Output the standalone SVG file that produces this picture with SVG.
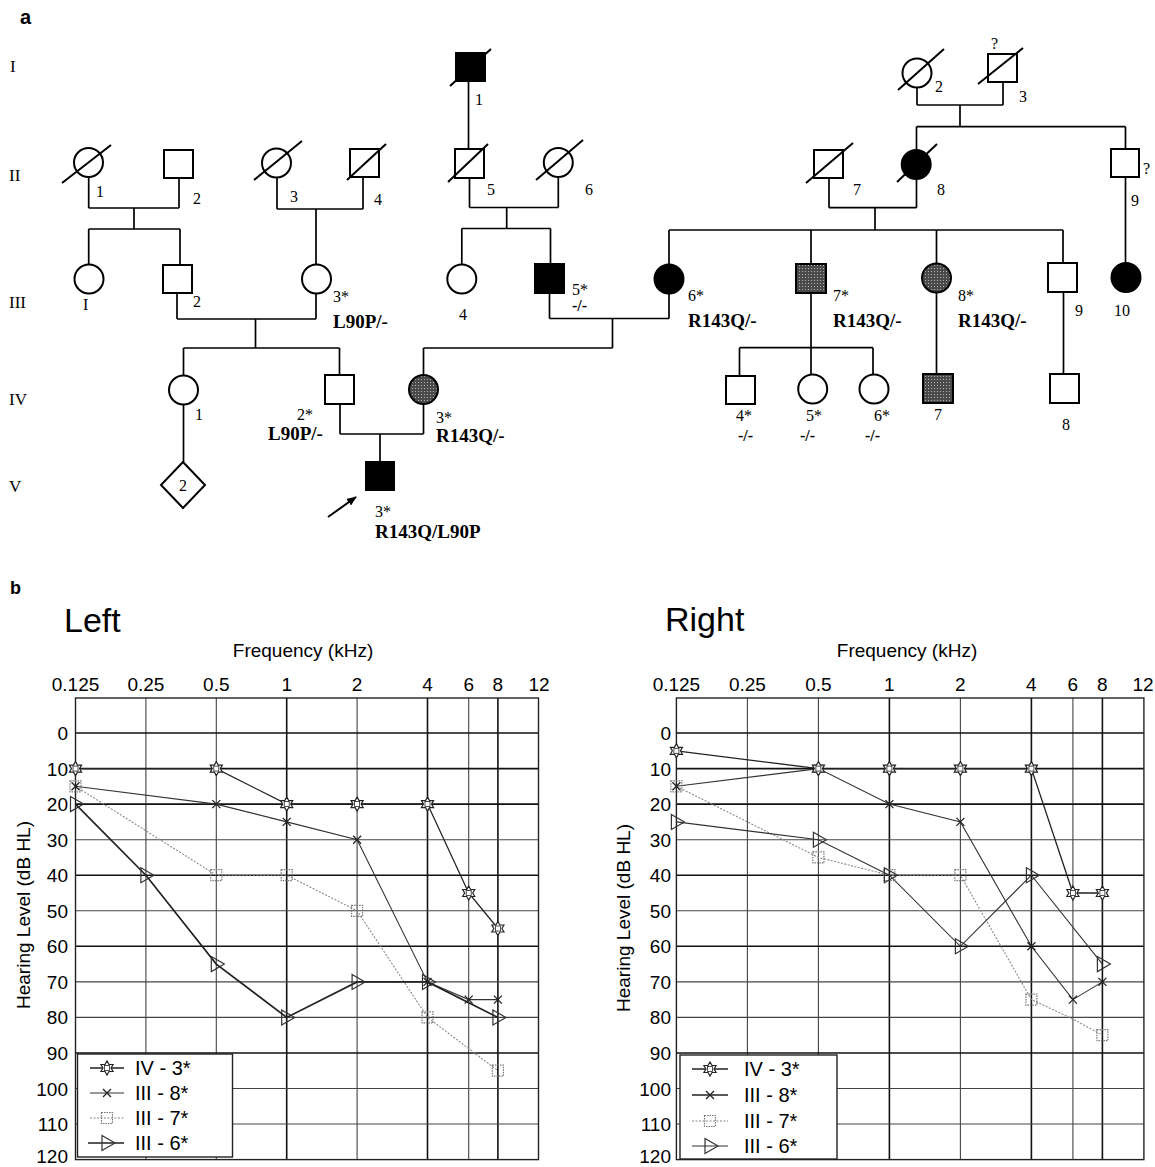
<svg xmlns="http://www.w3.org/2000/svg" xmlns:xlink="http://www.w3.org/1999/xlink" width="1155" height="1167" viewBox="0 0 1155 1167">
<style>
.sym{stroke:#000;stroke-width:2;fill:#fff}
.aff{fill:#000}
.car{fill:url(#dither)}
.sl{stroke:#000;stroke-width:2}
.con{stroke:#000;stroke-width:1.7;fill:none}
.lb{font-family:"Liberation Serif",serif;font-size:16px;fill:#000}
.gb{font-family:"Liberation Serif",serif;font-size:19px;font-weight:bold;fill:#000}
.gen{font-family:"Liberation Serif",serif;font-size:17px;fill:#000}
.pl{font-family:"Liberation Sans",Arial,sans-serif;font-weight:bold;fill:#000}
.ax{font-family:"Liberation Sans",Arial,sans-serif;font-size:19px;fill:#000}
.ttl{font-family:"Liberation Sans",Arial,sans-serif;font-size:34px;fill:#000}
.yl{font-family:"Liberation Sans",Arial,sans-serif;font-size:19px;fill:#000;text-anchor:end}
.leg{font-family:"Liberation Sans",Arial,sans-serif;font-size:20px;fill:#000}
.gd{stroke:#444;stroke-width:1.1}
.gdk{stroke:#111;stroke-width:1.6}
.bd{stroke:#222;stroke-width:1.4;fill:none}
.s4{stroke:#222;stroke-width:1.3;fill:none}
.s8{stroke:#333;stroke-width:1.1;fill:none}
.s7{stroke:#888;stroke-width:1.1;stroke-dasharray:2 1.5;fill:none}
.s6{stroke:#222;stroke-width:1.7;fill:none}
.mst{stroke:#222;stroke-width:1.2;fill:#fff}
.mx{stroke:#222;stroke-width:1.3;fill:none}
.msq{stroke:#777;stroke-width:1.2;stroke-dasharray:1.5 1;fill:none}
.mtr{stroke:#333;stroke-width:1.2;fill:none}
</style>
<defs>
<pattern id="dither" width="3" height="3" patternUnits="userSpaceOnUse">
<rect width="3" height="3" fill="#4a4a4a"/>
<rect x="1" y="1" width="1" height="1" fill="#b0b0b0"/>
</pattern>
<marker id="ah" markerWidth="10" markerHeight="8" refX="9" refY="4" orient="auto" markerUnits="userSpaceOnUse">
<path d="M0,0 L10,4 L0,8 Z" fill="#000"/>
</marker>
<symbol id="star" overflow="visible"><polygon class="mst" points="0,-7 2.02,-3.5 6.06,-3.5 4.04,0 6.06,3.5 2.02,3.5 0,7 -2.02,3.5 -6.06,3.5 -4.04,0 -6.06,-3.5 -2.02,-3.5"/><rect x="-2.5" y="-2.5" width="5" height="5" fill="none" stroke="#222" stroke-width="0.8"/></symbol>
<symbol id="xm" overflow="visible"><path class="mx" d="M-4,-4 L4,4 M-4,4 L4,-4"/></symbol>
<symbol id="sq" overflow="visible"><rect class="msq" x="-5.5" y="-5.5" width="11" height="11"/></symbol>
<symbol id="tri" overflow="visible"><polygon class="mtr" points="-5,-7.5 8,0 -5,7.5"/></symbol>
</defs>
<rect width="1155" height="1167" fill="#fff"/>

<!-- panel a -->
<text class="pl" x="20" y="24" font-size="20">a</text>
<g id="gen-labels">
<text class="gen" x="10" y="72">I</text>
<text class="gen" x="9" y="181">II</text>
<text class="gen" x="9" y="308">III</text>
<text class="gen" x="9" y="405">IV</text>
<text class="gen" x="9" y="492">V</text>
</g>

<g id="connectors">
<path class="con" d="M88.7,177 V208 M179,178 V208 M88.7,208 H179 M134,208 V229 M88.7,229 H180 M88.7,229 V264.5 M180,229 V265"/>
<path class="con" d="M277,177.5 V209 M363,177 V209 M277,209 H363 M316,209 V264.5"/>
<path class="con" d="M177,293 V319 M316,293.5 V319 M177,319 H316 M255.5,319 V348 M183.5,348 H339.5 M183.5,348 V375.5 M339.5,348 V375"/>
<path class="con" d="M468.5,81 V149"/>
<path class="con" d="M469.5,178 V207.5 M558.3,177 V207.5 M469.5,207.5 H558.3 M506.7,207.5 V228.5 M461.8,228.5 H550.5 M461.8,228.5 V264.5 M550.5,228.5 V264"/>
<path class="con" d="M549.5,293 V318.5 M669,293.5 V318.5 M549.5,318.5 H669 M612.5,318.5 V348 M423.5,348 H612.5 M423.5,348 V375"/>
<path class="con" d="M917,87.5 V105 M1003,82 V105 M917,105 H1003 M960,105 V126.7 M916.5,126.7 H1125.5 M916.5,126.7 V150 M1125.5,126.7 V149"/>
<path class="con" d="M829,178 V207.7 M916.5,179 V207.7 M829,207.7 H916.5 M875,207.7 V230 M669,230 H1063 M669,230 V264.5 M811,230 V264 M936.5,230 V263.5 M1063,230 V263"/>
<path class="con" d="M1125.5,177 V263"/>
<path class="con" d="M811,293 V375 M739.5,347.7 H873 M739.5,347.7 V376 M873,347.7 V374.5"/>
<path class="con" d="M936.5,292.5 V374 M1063.5,292 V374"/>
<path class="con" d="M183.5,404.5 V462"/>
<path class="con" d="M340,404 V434 M423.5,404 V434 M340,434 H423.5 M380,434 V462"/>
<line x1="328" y1="517" x2="356" y2="497" stroke="#000" stroke-width="2" marker-end="url(#ah)"/>
</g>

<g id="I-1"><rect class="sym aff" x="456" y="53" width="29" height="28"/><line class="sl" x1="450" y1="86" x2="491" y2="49"/><text class="lb" x="475" y="105">1</text></g>
<g id="I-2"><circle class="sym" cx="917" cy="73" r="14.5"/><line class="sl" x1="898" y1="90" x2="944" y2="49"/><text class="lb" x="935" y="92">2</text></g>
<g id="I-3"><rect class="sym" x="988" y="54" width="29" height="28"/><line class="sl" x1="978" y1="84" x2="1023" y2="48"/><text class="lb" x="991" y="49">?</text><text class="lb" x="1019" y="102">3</text></g>

<g id="II-1"><circle class="sym" cx="88.5" cy="162.5" r="14.5"/><line class="sl" x1="62" y1="183" x2="111" y2="145"/><text class="lb" x="96" y="197">1</text></g>
<g id="II-2"><rect class="sym" x="164" y="150" width="29" height="28"/><text class="lb" x="193" y="204">2</text></g>
<g id="II-3"><circle class="sym" cx="276.5" cy="163" r="14.5"/><line class="sl" x1="254" y1="180" x2="302" y2="141"/><text class="lb" x="290" y="202">3</text></g>
<g id="II-4"><rect class="sym" x="350" y="149" width="29" height="28"/><line class="sl" x1="347" y1="180" x2="386" y2="144"/><text class="lb" x="374" y="205">4</text></g>
<g id="II-5"><rect class="sym" x="455" y="149" width="29" height="29"/><line class="sl" x1="448" y1="182" x2="488" y2="144"/><text class="lb" x="487" y="195">5</text></g>
<g id="II-6"><circle class="sym" cx="558.3" cy="162.5" r="14.5"/><line class="sl" x1="536" y1="180" x2="583" y2="140"/><text class="lb" x="585" y="195">6</text></g>
<g id="II-7"><rect class="sym" x="814" y="150" width="29" height="28"/><line class="sl" x1="806" y1="183" x2="853" y2="143"/><text class="lb" x="853" y="195">7</text></g>
<g id="II-8"><circle class="sym aff" cx="916.2" cy="164.5" r="14.5"/><line class="sl" x1="897" y1="182" x2="937" y2="144"/><text class="lb" x="937" y="195">8</text></g>
<g id="II-9"><rect class="sym" x="1111" y="149" width="28" height="28"/><text class="lb" x="1143" y="174">?</text><text class="lb" x="1131" y="206">9</text></g>

<g id="III-1"><circle class="sym" cx="89" cy="279" r="14.5"/><text class="lb" x="83" y="310">I</text></g>
<g id="III-2"><rect class="sym" x="163" y="265" width="29" height="28"/><text class="lb" x="193" y="307">2</text></g>
<g id="III-3"><circle class="sym" cx="316.5" cy="279" r="14.5"/><text class="lb" x="333" y="302">3*</text><text class="gb" x="333" y="328">L90P/-</text></g>
<g id="III-4"><circle class="sym" cx="461.8" cy="279" r="14.5"/><text class="lb" x="459" y="320">4</text></g>
<g id="III-5"><rect class="sym aff" x="535" y="264" width="29" height="29"/><text class="lb" x="572" y="295">5*</text><text class="lb" x="572" y="311" font-weight="bold">-/-</text></g>
<g id="III-6"><circle class="sym aff" cx="669" cy="279" r="14.5"/><text class="lb" x="688" y="301">6*</text><text class="gb" x="688" y="327">R143Q/-</text></g>
<g id="III-7"><rect class="sym car" x="796" y="264" width="30" height="29"/><text class="lb" x="833" y="301">7*</text><text class="gb" x="833" y="327">R143Q/-</text></g>
<g id="III-8"><circle class="sym car" cx="936.5" cy="278" r="14.5"/><text class="lb" x="958" y="301">8*</text><text class="gb" x="958" y="327">R143Q/-</text></g>
<g id="III-9"><rect class="sym" x="1048" y="263" width="29" height="29"/><text class="lb" x="1075" y="316">9</text></g>
<g id="III-10"><circle class="sym aff" cx="1126" cy="277.5" r="14.5"/><text class="lb" x="1114" y="316">10</text></g>

<g id="IV-1"><circle class="sym" cx="183.5" cy="390" r="14.5"/><text class="lb" x="195" y="420">1</text></g>
<g id="IV-2"><rect class="sym" x="325" y="375" width="29" height="29"/><text class="lb" x="297" y="420">2*</text><text class="gb" x="268" y="440">L90P/-</text></g>
<g id="IV-3"><circle class="sym car" cx="423.5" cy="389.5" r="14.5"/><text class="lb" x="436" y="423">3*</text><text class="gb" x="436" y="442">R143Q/-</text></g>
<g id="IV-4"><rect class="sym" x="726" y="376" width="29" height="28"/><text class="lb" x="736" y="421">4*</text><text class="lb" x="738" y="441" font-weight="bold">-/-</text></g>
<g id="IV-5"><circle class="sym" cx="812.7" cy="389" r="14.5"/><text class="lb" x="806" y="421">5*</text><text class="lb" x="800" y="441" font-weight="bold">-/-</text></g>
<g id="IV-6"><circle class="sym" cx="874" cy="389" r="14.5"/><text class="lb" x="874" y="421">6*</text><text class="lb" x="865" y="441" font-weight="bold">-/-</text></g>
<g id="IV-7"><rect class="sym car" x="923" y="374" width="30" height="29"/><text class="lb" x="934" y="420">7</text></g>
<g id="IV-8"><rect class="sym" x="1050" y="374" width="29" height="29"/><text class="lb" x="1062" y="430">8</text></g>

<g id="V-2"><polygon class="sym" points="183,462 205,485 183,508 161,485"/><text class="lb" x="183" y="491" text-anchor="middle" font-size="15">2</text></g>
<g id="V-3"><rect class="sym aff" x="366" y="462" width="28" height="28"/><text class="lb" x="375" y="517">3*</text><text class="gb" x="375" y="538" font-size="18">R143Q/L90P</text></g>

<!-- panel b -->
<text class="pl" x="10" y="594" font-size="18">b</text>

<g id="chart-left">
<text class="ttl" x="64" y="632">Left</text>
<text class="ax" x="303" y="657" text-anchor="middle">Frequency (kHz)</text>
<g class="ax" text-anchor="middle">
<text x="75.5" y="691">0.125</text><text x="145.9" y="691">0.25</text><text x="216.3" y="691">0.5</text><text x="286.7" y="691">1</text><text x="357.1" y="691">2</text><text x="427.5" y="691">4</text><text x="468.7" y="691">6</text><text x="497.9" y="691">8</text><text x="539.1" y="691">12</text>
</g>
<g>
<line class="gd" x1="145.9" y1="698" x2="145.9" y2="1159.6"/><line class="gd" x1="216.3" y1="698" x2="216.3" y2="1159.6"/><line class="gdk" x1="286.7" y1="698" x2="286.7" y2="1159.6"/><line class="gd" x1="357.1" y1="698" x2="357.1" y2="1159.6"/><line class="gdk" x1="427.5" y1="698" x2="427.5" y2="1159.6"/><line class="gd" x1="468.7" y1="698" x2="468.7" y2="1159.6"/><line class="gdk" x1="497.9" y1="698" x2="497.9" y2="1159.6"/>
<line class="gdk" x1="75.5" y1="733" x2="538.5" y2="733"/><line class="gdk" x1="75.5" y1="768.6" x2="538.5" y2="768.6"/><line class="gdk" x1="75.5" y1="804.1" x2="538.5" y2="804.1"/><line class="gd" x1="75.5" y1="839.7" x2="538.5" y2="839.7"/><line class="gdk" x1="75.5" y1="875.2" x2="538.5" y2="875.2"/><line class="gd" x1="75.5" y1="910.8" x2="538.5" y2="910.8"/><line class="gdk" x1="75.5" y1="946.3" x2="538.5" y2="946.3"/><line class="gd" x1="75.5" y1="981.9" x2="538.5" y2="981.9"/><line class="gd" x1="75.5" y1="1017.4" x2="538.5" y2="1017.4"/><line class="gdk" x1="75.5" y1="1053" x2="538.5" y2="1053"/><line class="gd" x1="75.5" y1="1088.5" x2="538.5" y2="1088.5"/><line class="gd" x1="75.5" y1="1124" x2="538.5" y2="1124"/>
<rect class="bd" x="75.5" y="698" width="463" height="461.6"/>
</g>
<g class="yl">
<text x="68" y="740">0</text><text x="68" y="775.6">10</text><text x="68" y="811.1">20</text><text x="68" y="846.7">30</text><text x="68" y="882.2">40</text><text x="68" y="917.8">50</text><text x="68" y="953.3">60</text><text x="68" y="988.9">70</text><text x="68" y="1024.4">80</text><text x="68" y="1060">90</text><text x="68" y="1095.5">100</text><text x="68" y="1131">110</text><text x="68" y="1162.5">120</text>
</g>
<text class="ax" font-size="22" transform="translate(30,915) rotate(-90)" text-anchor="middle">Hearing Level (dB HL)</text>
<polyline class="s7" points="75.5,786.3 216.3,875.2 286.7,875.2 357.1,910.8 427.5,1017.4 497.9,1070.7"/>
<polyline class="s8" points="75.5,786.3 216.3,804.1 286.7,821.9 357.1,839.7 427.5,981.9 468.7,999.6 497.9,999.6"/>
<polyline class="s6" points="75.5,804.1 145.9,875.2 216.3,964.1 286.7,1017.4 357.1,981.9 427.5,981.9 497.9,1017.4"/>
<polyline class="s4" points="75.5,768.6 216.3,768.6 286.7,804.1 357.1,804.1 427.5,804.1 468.7,893 497.9,928.5"/>
<g>
<use xlink:href="#sq" x="75.5" y="786.3"/><use xlink:href="#sq" x="216.3" y="875.2"/><use xlink:href="#sq" x="286.7" y="875.2"/><use xlink:href="#sq" x="357.1" y="910.8"/><use xlink:href="#sq" x="427.5" y="1017.4"/><use xlink:href="#sq" x="497.9" y="1070.7"/>
<use xlink:href="#tri" x="75.5" y="804.1"/><use xlink:href="#tri" x="145.9" y="875.2"/><use xlink:href="#tri" x="216.3" y="964.1"/><use xlink:href="#tri" x="286.7" y="1017.4"/><use xlink:href="#tri" x="357.1" y="981.9"/><use xlink:href="#tri" x="427.5" y="981.9"/><use xlink:href="#tri" x="497.9" y="1017.4"/>
<use xlink:href="#xm" x="75.5" y="786.3"/><use xlink:href="#xm" x="216.3" y="804.1"/><use xlink:href="#xm" x="286.7" y="821.9"/><use xlink:href="#xm" x="357.1" y="839.7"/><use xlink:href="#xm" x="427.5" y="981.9"/><use xlink:href="#xm" x="468.7" y="999.6"/><use xlink:href="#xm" x="497.9" y="999.6"/>
<use xlink:href="#star" x="75.5" y="768.6"/><use xlink:href="#star" x="216.3" y="768.6"/><use xlink:href="#star" x="286.7" y="804.1"/><use xlink:href="#star" x="357.1" y="804.1"/><use xlink:href="#star" x="427.5" y="804.1"/><use xlink:href="#star" x="468.7" y="893"/><use xlink:href="#star" x="497.9" y="928.5"/>
</g>
<g id="legend-left">
<rect x="77.5" y="1054" width="155" height="103" fill="#fff" stroke="#222" stroke-width="1.4"/>
<line class="s4" x1="90" y1="1068" x2="124" y2="1068"/><use xlink:href="#star" x="107" y="1068"/><text class="leg" x="135" y="1075">IV - 3*</text>
<line class="s8" x1="90" y1="1093" x2="124" y2="1093"/><use xlink:href="#xm" x="107" y="1093"/><text class="leg" x="135" y="1100">III - 8*</text>
<line class="s7" x1="90" y1="1118" x2="124" y2="1118"/><use xlink:href="#sq" x="107" y="1118"/><text class="leg" x="135" y="1125">III - 7*</text>
<line class="s6" x1="88" y1="1143" x2="124" y2="1143"/><use xlink:href="#tri" x="107" y="1143"/><text class="leg" x="135" y="1150">III - 6*</text>
</g>
</g>

<g id="chart-right">
<text class="ttl" x="665" y="631">Right</text>
<text class="ax" x="907" y="657" text-anchor="middle">Frequency (kHz)</text>
<g class="ax" text-anchor="middle">
<text x="676.4" y="691">0.125</text><text x="747.4" y="691">0.25</text><text x="818.4" y="691">0.5</text><text x="889.4" y="691">1</text><text x="960.4" y="691">2</text><text x="1031.4" y="691">4</text><text x="1072.9" y="691">6</text><text x="1102.4" y="691">8</text><text x="1143" y="691">12</text>
</g>
<g>
<line class="gd" x1="747.4" y1="698" x2="747.4" y2="1159.6"/><line class="gd" x1="818.4" y1="698" x2="818.4" y2="1159.6"/><line class="gdk" x1="889.4" y1="698" x2="889.4" y2="1159.6"/><line class="gd" x1="960.4" y1="698" x2="960.4" y2="1159.6"/><line class="gdk" x1="1031.4" y1="698" x2="1031.4" y2="1159.6"/><line class="gd" x1="1072.9" y1="698" x2="1072.9" y2="1159.6"/><line class="gdk" x1="1102.4" y1="698" x2="1102.4" y2="1159.6"/>
<line class="gdk" x1="676.4" y1="733" x2="1143.9" y2="733"/><line class="gdk" x1="676.4" y1="768.6" x2="1143.9" y2="768.6"/><line class="gdk" x1="676.4" y1="804.1" x2="1143.9" y2="804.1"/><line class="gd" x1="676.4" y1="839.7" x2="1143.9" y2="839.7"/><line class="gdk" x1="676.4" y1="875.2" x2="1143.9" y2="875.2"/><line class="gd" x1="676.4" y1="910.8" x2="1143.9" y2="910.8"/><line class="gdk" x1="676.4" y1="946.3" x2="1143.9" y2="946.3"/><line class="gd" x1="676.4" y1="981.9" x2="1143.9" y2="981.9"/><line class="gd" x1="676.4" y1="1017.4" x2="1143.9" y2="1017.4"/><line class="gdk" x1="676.4" y1="1053" x2="1143.9" y2="1053"/><line class="gd" x1="676.4" y1="1088.5" x2="1143.9" y2="1088.5"/><line class="gd" x1="676.4" y1="1124" x2="1143.9" y2="1124"/>
<rect class="bd" x="676.4" y="698" width="467.5" height="461.6"/>
</g>
<g class="yl">
<text x="671" y="740">0</text><text x="671" y="775.6">10</text><text x="671" y="811.1">20</text><text x="671" y="846.7">30</text><text x="671" y="882.2">40</text><text x="671" y="917.8">50</text><text x="671" y="953.3">60</text><text x="671" y="988.9">70</text><text x="671" y="1024.4">80</text><text x="671" y="1060">90</text><text x="671" y="1095.5">100</text><text x="671" y="1131">110</text><text x="671" y="1162.5">120</text>
</g>
<text class="ax" font-size="22" transform="translate(630,918) rotate(-90)" text-anchor="middle">Hearing Level (dB HL)</text>
<polyline class="s7" points="676.4,786.3 818.4,857.4 889.4,875.2 960.4,875.2 1031.4,999.6 1072.9,1019 1102.4,1035.2"/>
<polyline class="s8" points="676.4,786.3 818.4,768.6 889.4,804.1 960.4,821.9 1031.4,946.3 1072.9,999.6 1102.4,981.9"/>
<polyline class="s8" points="676.4,821.9 818.4,839.7 889.4,875.2 960.4,946.3 1031.4,875.2 1102.4,964.1"/>
<polyline class="s4" points="676.4,750.8 818.4,768.6 889.4,768.6 960.4,768.6 1031.4,768.6 1072.9,893 1102.4,893"/>
<g>
<use xlink:href="#sq" x="676.4" y="786.3"/><use xlink:href="#sq" x="818.4" y="857.4"/><use xlink:href="#sq" x="889.4" y="875.2"/><use xlink:href="#sq" x="960.4" y="875.2"/><use xlink:href="#sq" x="1031.4" y="999.6"/><use xlink:href="#sq" x="1102.4" y="1035.2"/>
<use xlink:href="#tri" x="676.4" y="821.9"/><use xlink:href="#tri" x="818.4" y="839.7"/><use xlink:href="#tri" x="889.4" y="875.2"/><use xlink:href="#tri" x="960.4" y="946.3"/><use xlink:href="#tri" x="1031.4" y="875.2"/><use xlink:href="#tri" x="1102.4" y="964.1"/>
<use xlink:href="#xm" x="676.4" y="786.3"/><use xlink:href="#xm" x="818.4" y="768.6"/><use xlink:href="#xm" x="889.4" y="804.1"/><use xlink:href="#xm" x="960.4" y="821.9"/><use xlink:href="#xm" x="1031.4" y="946.3"/><use xlink:href="#xm" x="1072.9" y="999.6"/><use xlink:href="#xm" x="1102.4" y="981.9"/>
<use xlink:href="#star" x="676.4" y="750.8"/><use xlink:href="#star" x="818.4" y="768.6"/><use xlink:href="#star" x="889.4" y="768.6"/><use xlink:href="#star" x="960.4" y="768.6"/><use xlink:href="#star" x="1031.4" y="768.6"/><use xlink:href="#star" x="1072.9" y="893"/><use xlink:href="#star" x="1102.4" y="893"/>
</g>
<g id="legend-right">
<rect x="680" y="1055" width="157" height="104" fill="#fff" stroke="#222" stroke-width="1.4"/>
<line class="s4" x1="692" y1="1069" x2="728" y2="1069"/><use xlink:href="#star" x="710" y="1069"/><text class="leg" x="744" y="1076">IV - 3*</text>
<line class="s6" x1="692" y1="1095" x2="728" y2="1095"/><use xlink:href="#xm" x="710" y="1095"/><text class="leg" x="744" y="1102">III - 8*</text>
<line class="s7" x1="692" y1="1121" x2="728" y2="1121"/><use xlink:href="#sq" x="710" y="1121"/><text class="leg" x="744" y="1128">III - 7*</text>
<line class="s8" x1="692" y1="1146" x2="728" y2="1146"/><use xlink:href="#tri" x="710" y="1146"/><text class="leg" x="744" y="1153">III - 6*</text>
</g>
</g>
</svg>
